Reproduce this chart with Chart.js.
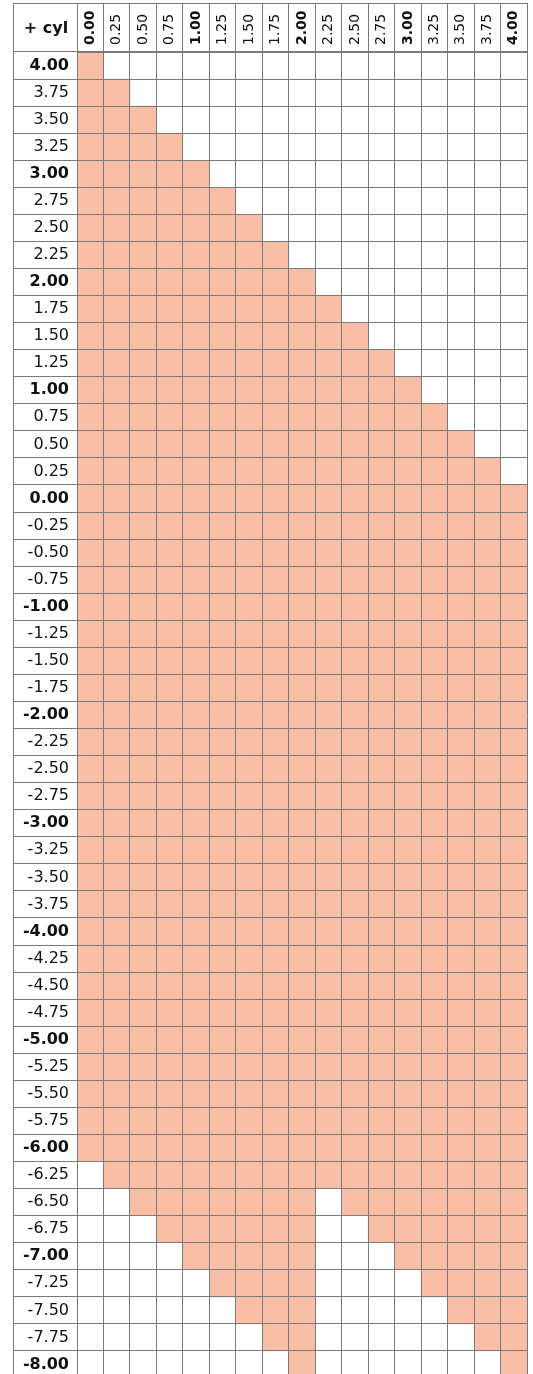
<!DOCTYPE html>
<html>
<head>
<meta charset="utf-8">
<script src="https://cdn.jsdelivr.net/npm/chart.js@4/dist/chart.umd.min.js"></script>
<style>
  html, body { margin: 0; padding: 0; background: #ffffff; overflow: hidden; }
  canvas { display: block; }
</style>
</head>
<body>
<canvas id="c" width="533" height="1380"></canvas>
<script>
// Column categories (+ cyl)
const cylLabels = ['0.00','0.25','0.50','0.75','1.00','1.25','1.50','1.75','2.00',
                   '2.25','2.50','2.75','3.00','3.25','3.50','3.75','4.00'];
// Row categories (sphere), top to bottom
const sphereLabels = ['4.00','3.75','3.50','3.25','3.00','2.75','2.50','2.25','2.00',
  '1.75','1.50','1.25','1.00','0.75','0.50','0.25','0.00',
  '-0.25','-0.50','-0.75','-1.00','-1.25','-1.50','-1.75','-2.00',
  '-2.25','-2.50','-2.75','-3.00','-3.25','-3.50','-3.75','-4.00',
  '-4.25','-4.50','-4.75','-5.00','-5.25','-5.50','-5.75','-6.00',
  '-6.25','-6.50','-6.75','-7.00','-7.25','-7.50','-7.75','-8.00'];
// Highest filled sphere value per cyl column
const colTop = [4.00,3.75,3.50,3.25,3.00,2.75,2.50,2.25,2.00,
                1.75,1.50,1.25,1.00,0.75,0.50,0.25,0.00];
// Lowest filled sphere value per cyl column
const colBottom = [-6.00,-6.25,-6.50,-6.75,-7.00,-7.25,-7.50,-7.75,-8.00,
                   -6.25,-6.50,-6.75,-7.00,-7.25,-7.50,-7.75,-8.00];
const cornerLabel = '+ cyl';
const step = 0.25;

const fillColor = 'rgb(248,191,166)';
const lineColor = '#7a7a7a';
const fontFamily = '"DejaVu Sans", sans-serif';
const colFontSize = 14;
const isWhole = s => /\.00$/.test(s);

const sphereNums = sphereLabels.map(Number);
const vMin = Math.min(...sphereNums) - step / 2;
const vMax = Math.max(...sphereNums) + step / 2;

const framePlugin = {
  id: 'frame',
  afterDraw(chart) {
    const ctx = chart.ctx;
    const xs = chart.scales.x, ys = chart.scales.y;
    const L = Math.round(ys.left) + 0.5;
    const T = Math.round(xs.top) + 0.5;
    const R = Math.round(xs.right) + 0.5;
    ctx.save();
    ctx.strokeStyle = lineColor;
    ctx.lineWidth = 1;
    ctx.beginPath();
    ctx.moveTo(L, chart.height);
    ctx.lineTo(L, T);
    ctx.lineTo(R, T);
    ctx.stroke();
    ctx.fillStyle = '#111';
    ctx.font = 'bold 16px ' + fontFamily;
    ctx.textAlign = 'center';
    ctx.textBaseline = 'middle';
    ctx.fillText(cornerLabel, (ys.left + ys.right) / 2 + 1, (xs.top + xs.bottom) / 2 + 1);
    ctx.restore();
  }
};

new Chart(document.getElementById('c'), {
  type: 'bar',
  data: {
    labels: cylLabels,
    datasets: [{
      data: cylLabels.map((_, j) => [colBottom[j] - step / 2, colTop[j] + step / 2]),
      backgroundColor: fillColor,
      borderWidth: 0,
      barPercentage: 1,
      categoryPercentage: 1,
      xAxisID: 'x',
      yAxisID: 'yv'
    }]
  },
  options: {
    responsive: false,
    devicePixelRatio: 1,
    animation: false,
    events: [],
    layout: { padding: { left: 13, top: 3, right: 6, bottom: 2 } },
    plugins: { legend: { display: false }, tooltip: { enabled: false } },
    scales: {
      x: {
        type: 'category',
        position: 'top',
        offset: true,
        grid: { offset: true, color: lineColor, lineWidth: 1, tickLength: 49, z: 1 },
        border: { color: lineColor, z: 1 },
        ticks: {
          minRotation: 90, maxRotation: 90, autoSkip: false,
          padding: -42,
          labelOffset: colFontSize * 1.2,
          color: '#111',
          font: ctx => ({ family: fontFamily, size: colFontSize, weight: isWhole(ctx.tick ? ctx.tick.label : '') ? 'bold' : 'normal' })
        },
        afterFit: s => { s.height = 49; }
      },
      y: {
        type: 'category',
        axis: 'y',
        position: 'left',
        labels: sphereLabels,
        offset: true,
        grid: { offset: true, color: lineColor, lineWidth: 1, tickLength: 64, z: 1 },
        border: { color: lineColor, z: 1 },
        ticks: {
          autoSkip: false,
          padding: -56,
          color: '#111',
          font: ctx => ({ family: fontFamily, size: 16, weight: isWhole(ctx.tick ? ctx.tick.label : '') ? 'bold' : 'normal' })
        },
        afterFit: s => { s.width = 64; }
      },
      yv: {
        type: 'linear',
        axis: 'y',
        display: false,
        min: vMin,
        max: vMax
      }
    }
  },
  plugins: [framePlugin]
});
</script>
</body>
</html>
